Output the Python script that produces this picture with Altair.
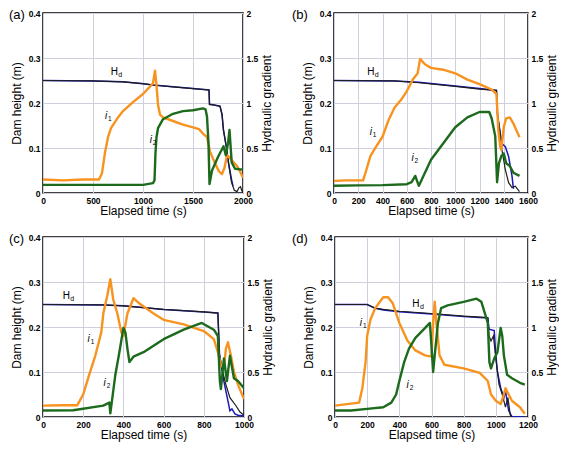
import altair as alt
import pandas as pd

# ---------------- data ----------------
# Panel (a)
a_hdb_t = [0, 500, 800, 1000, 1100, 1300, 1500, 1660, 1665, 1700, 1770, 1790, 1805, 1830, 1855, 1885, 1900]
a_hdb_v = [0.25, 0.249, 0.247, 0.243, 0.240, 0.236, 0.232, 0.229, 0.197, 0.196, 0.193, 0.175, 0.139, 0.107, 0.067, 0.030, 0.015]
a_hdk_t = [0, 500, 800, 1000, 1100, 1300, 1500, 1660, 1665, 1700, 1770, 1790, 1805, 1830, 1855, 1885, 1913, 1940, 1960, 1975, 1990, 2000]
a_hdk_v = [0.25, 0.249, 0.247, 0.243, 0.240, 0.236, 0.232, 0.229, 0.197, 0.196, 0.193, 0.175, 0.139, 0.107, 0.067, 0.024, 0.006, 0.003, 0.012, 0.014, 0.004, 0.002]
a_i1_t = [0, 200, 400, 560, 590, 620, 650, 680, 750, 800, 900, 1000, 1060, 1100, 1120, 1135, 1150, 1170, 1200, 1300, 1400, 1500, 1560, 1600, 1640, 1670, 1720, 1760, 1790, 1815, 1840, 1860, 1890, 1940, 1970, 2000]
a_i1_g = [0.15, 0.14, 0.15, 0.15, 0.22, 0.45, 0.62, 0.72, 0.84, 0.91, 1.01, 1.10, 1.17, 1.22, 1.36, 1.20, 0.98, 0.87, 0.84, 0.80, 0.76, 0.73, 0.71, 0.66, 0.62, 0.46, 0.33, 0.24, 0.21, 0.28, 0.42, 0.40, 0.36, 0.30, 0.24, 0.17]
a_i2_t = [0, 500, 1000, 1100, 1115, 1125, 1135, 1150, 1200, 1300, 1400, 1500, 1600, 1625, 1640, 1655, 1665, 1690, 1750, 1805, 1828, 1850, 1865, 1887, 1920, 2000]
a_i2_g = [0.09, 0.09, 0.09, 0.11, 0.14, 0.45, 0.62, 0.72, 0.82, 0.88, 0.91, 0.92, 0.94, 0.93, 0.85, 0.55, 0.10, 0.25, 0.40, 0.52, 0.42, 0.55, 0.70, 0.34, 0.27, 0.26]

# Panel (b)
b_hdb_t = [0, 500, 700, 1000, 1200, 1340, 1348, 1371, 1385, 1413, 1440, 1468, 1480]
b_hdb_v = [0.25, 0.249, 0.246, 0.238, 0.232, 0.228, 0.176, 0.132, 0.110, 0.103, 0.081, 0.038, 0.009]
b_hdk_t = [0, 500, 700, 1000, 1200, 1340, 1348, 1371, 1385, 1413, 1440, 1468, 1495, 1530]
b_hdk_v = [0.25, 0.249, 0.245, 0.237, 0.231, 0.228, 0.176, 0.132, 0.096, 0.052, 0.023, 0.012, 0.015, 0.003]
b_i1_t = [0, 100, 240, 260, 300, 350, 400, 450, 500, 550, 600, 650, 690, 710, 750, 800, 900, 1000, 1100, 1200, 1300, 1340, 1355, 1370, 1380, 1400, 1420, 1450, 1480, 1530]
b_i1_g = [0.135, 0.14, 0.14, 0.225, 0.41, 0.52, 0.625, 0.81, 0.95, 1.03, 1.13, 1.26, 1.33, 1.49, 1.43, 1.39, 1.37, 1.33, 1.26, 1.21, 1.15, 1.10, 0.70, 0.52, 0.48, 0.73, 0.83, 0.84, 0.77, 0.62]
b_i2_t = [0, 200, 400, 600, 640, 670, 700, 750, 800, 900, 1000, 1100, 1200, 1280, 1300, 1330, 1345, 1360, 1380, 1400, 1420, 1450, 1480, 1530]
b_i2_g = [0.08, 0.085, 0.087, 0.098, 0.12, 0.19, 0.08, 0.225, 0.37, 0.55, 0.73, 0.84, 0.90, 0.90, 0.83, 0.63, 0.12, 0.33, 0.41, 0.44, 0.33, 0.30, 0.225, 0.19]

# Panel (c)
c_hdb_t = [0, 300, 400, 600, 800, 870, 878, 900, 920, 930, 940, 955, 970, 1000]
c_hdb_v = [0.25, 0.249, 0.247, 0.239, 0.2335, 0.231, 0.140, 0.079, 0.036, 0.014, 0.018, 0.007, 0.004, 0.002]
c_hdk_t = [0, 300, 400, 600, 800, 870, 878, 890, 910, 930, 960, 980, 1000]
c_hdk_v = [0.25, 0.249, 0.247, 0.239, 0.2335, 0.231, 0.140, 0.108, 0.072, 0.043, 0.025, 0.011, 0.004]
c_i1_t = [0, 100, 170, 200, 230, 260, 290, 300, 320, 335, 350, 370, 390, 400, 420, 450, 480, 550, 600, 700, 800, 850, 870, 885, 900, 910, 920, 935, 950, 970, 1000]
c_i1_g = [0.126, 0.13, 0.13, 0.25, 0.47, 0.68, 0.94, 1.15, 1.35, 1.53, 1.30, 1.15, 0.94, 0.90, 1.15, 1.32, 1.26, 1.15, 1.08, 1.03, 0.955, 0.865, 0.72, 0.58, 0.54, 0.76, 0.83, 0.68, 0.50, 0.36, 0.20]
c_i2_t = [0, 150, 300, 330, 335, 360, 380, 400, 410, 420, 430, 450, 500, 600, 700, 790, 850, 870, 880, 885, 900, 915, 930, 950, 970, 1000]
c_i2_g = [0.072, 0.075, 0.126, 0.16, 0.04, 0.47, 0.72, 0.99, 0.94, 0.76, 0.61, 0.67, 0.72, 0.865, 0.97, 1.045, 0.97, 0.90, 0.40, 0.31, 0.65, 0.40, 0.68, 0.43, 0.40, 0.32]

# Panel (d)
d_hdb_t = [0, 200, 250, 300, 400, 600, 800, 950, 958, 990, 1000, 1010, 1030, 1050, 1060, 1070, 1080, 1100, 1180]
d_hdb_v = [0.25, 0.25, 0.2415, 0.238, 0.234, 0.229, 0.2235, 0.220, 0.195, 0.192, 0.137, 0.100, 0.065, 0.043, 0.058, 0.036, 0.014, 0.001, 0.0]
d_hdk_t = [0, 200, 250, 300, 400, 600, 800, 950, 958, 970, 985, 1000, 1020, 1040, 1060, 1075, 1090, 1100]
d_hdk_v = [0.25, 0.25, 0.242, 0.239, 0.235, 0.230, 0.224, 0.221, 0.180, 0.169, 0.180, 0.130, 0.072, 0.050, 0.022, 0.043, 0.004, 0.0]
d_i1_t = [0, 150, 170, 190, 200, 220, 250, 300, 330, 360, 400, 450, 500, 560, 600, 610, 620, 630, 650, 680, 800, 900, 950, 970, 1000, 1030, 1050, 1060, 1080, 1100, 1150, 1180]
d_i1_g = [0.126, 0.16, 0.32, 0.61, 0.90, 1.08, 1.21, 1.33, 1.33, 1.26, 1.045, 0.85, 0.74, 0.685, 0.67, 1.045, 1.28, 1.045, 0.685, 0.58, 0.54, 0.49, 0.40, 0.25, 0.18, 0.144, 0.25, 0.32, 0.25, 0.18, 0.108, 0.036]
d_i2_t = [0, 100, 200, 300, 350, 380, 400, 430, 460, 500, 550, 590, 600, 610, 620, 640, 660, 700, 800, 880, 910, 950, 960, 970, 990, 1010, 1030, 1040, 1050, 1070, 1100, 1150, 1180]
d_i2_g = [0.072, 0.072, 0.09, 0.108, 0.16, 0.25, 0.40, 0.61, 0.76, 0.88, 0.97, 1.045, 0.79, 0.50, 0.685, 1.045, 1.21, 1.24, 1.28, 1.315, 1.28, 1.045, 0.61, 0.54, 0.65, 0.72, 0.99, 0.90, 0.685, 0.47, 0.43, 0.38, 0.36]

# Annotation anchors: (time, value) for H_d (left axis) and i1, i2 (right axis)
a_ann = {"hd": (713, 0.269), "i1": (630, 0.86), "i2": (1078, 0.585)}
b_ann = {"hd": (303, 0.270), "i1": (303, 0.68), "i2": (648, 0.39)}
c_ann = {"hd": (116, 0.270), "i1": (227, 0.865), "i2": (307, 0.38)}
d_ann = {"hd": (503, 0.252), "i1": (161, 1.045), "i2": (452, 0.36)}

panel_tags = ["(a)", "(b)", "(c)", "(d)"]
x_max = [2000, 1600, 1000, 1200]
x_step = [500, 200, 200, 200]
left_ticks = [0, 0.1, 0.2, 0.3, 0.4]
right_ticks = [0, 0.5, 1, 1.5, 2]

# ---------------- styling ----------------
FONT = "Liberation Sans"
ORANGE = "#F7931E"
GREEN = "#1C6A1C"
BLUE = "#1A1AB8"
BLACK = "#1E1E1E"
GRID = "#CFCFDD"

AX = dict(labelFont=FONT, titleFont=FONT, labelFontSize=8.5, labelFontWeight="bold",
          labelColor="black", titleColor="black", titleFontSize=12, titleFontWeight="normal",
          ticks=False, domain=False, labelPadding=3, labelOverlap=False, labelFlush=False,
          tickCount=30)


def df(t, v):
    return pd.DataFrame({"t": t, "v": v})


def panel(k, hdb, hdk, i1, i2, ann, width, height, tag_dx):
    xmax = x_max[k]
    xs = alt.Scale(domain=[0, xmax], nice=False)
    ls = alt.Scale(domain=[0, 0.4], nice=False)
    rs = alt.Scale(domain=[0, 2], nice=False)
    xaxis = alt.Axis(values=list(range(0, xmax + 1, x_step[k])), format="d", title="Elapsed time (s)",
                     grid=True, gridColor=GRID, gridWidth=1, titlePadding=1, **AX)
    laxis = alt.Axis(values=left_ticks, format="~g", title="Dam height (m)", grid=True,
                     gridColor=GRID, gridWidth=1, titlePadding=5, **AX)
    raxis = alt.Axis(values=right_ticks, format="~g", title="Hydraulic gradient", orient="right",
                     grid=False, titleAngle=270, titleBaseline="top", titlePadding=4, **AX)

    X = alt.X("t:Q", scale=xs, axis=xaxis)
    Xn = alt.X("t:Q", scale=xs)

    blue = alt.Chart(df(*hdb)).mark_line(color=BLUE, strokeWidth=1.5, clip=True).encode(
        x=X, y=alt.Y("v:Q", scale=ls, axis=laxis))
    black = alt.Chart(df(*hdk)).mark_line(color=BLACK, strokeWidth=1.2, clip=True).encode(
        x=Xn, y=alt.Y("v:Q", scale=ls, axis=None))
    orange = alt.Chart(df(*i1)).mark_line(color=ORANGE, strokeWidth=2.4, strokeJoin="round", clip=True).encode(
        x=Xn, y=alt.Y("v:Q", scale=rs, axis=raxis))
    green = alt.Chart(df(*i2)).mark_line(color=GREEN, strokeWidth=2.4, strokeJoin="round", clip=True).encode(
        x=Xn, y=alt.Y("v:Q", scale=rs, axis=None))

    hd_df = pd.DataFrame({"t": [ann["hd"][0]], "v": [ann["hd"][1]], "m": ["H"], "s": ["d"]})
    i_df = pd.DataFrame({"t": [ann["i1"][0], ann["i2"][0]], "v": [ann["i1"][1], ann["i2"][1]],
                         "m": ["i", "i"], "s": ["1", "2"]})
    hd_main = alt.Chart(hd_df).mark_text(font=FONT, fontSize=10, color="black", align="center",
                                         baseline="middle").encode(
        x=Xn, y=alt.Y("v:Q", scale=ls, axis=None), text="m:N")
    hd_sub = alt.Chart(hd_df).mark_text(font=FONT, fontSize=7, color="black", align="left",
                                        baseline="middle", dx=4, dy=3).encode(
        x=Xn, y=alt.Y("v:Q", scale=ls, axis=None), text="s:N")
    i_main = alt.Chart(i_df).mark_text(font=FONT, fontSize=10, fontStyle="italic", color="black",
                                       align="center", baseline="middle").encode(
        x=Xn, y=alt.Y("v:Q", scale=rs, axis=None), text="m:N")
    i_sub = alt.Chart(i_df).mark_text(font=FONT, fontSize=6.5, color="black", align="left",
                                      baseline="middle", dx=2, dy=3).encode(
        x=Xn, y=alt.Y("v:Q", scale=rs, axis=None), text="s:N")
    tag = alt.Chart(pd.DataFrame({"tag": [panel_tags[k]]})).mark_text(
        font=FONT, fontSize=13, color="black", align="left", baseline="middle").encode(
        x=alt.value(tag_dx), y=alt.value(2), text="tag:N")

    return alt.layer(blue, black, orange, green, hd_main, hd_sub, i_main, i_sub, tag).resolve_scale(
        y="independent").properties(width=width, height=height)


pa = panel(0, (a_hdb_t, a_hdb_v), (a_hdk_t, a_hdk_v), (a_i1_t, a_i1_g), (a_i2_t, a_i2_g), a_ann, 200, 180, -34)
pb = panel(1, (b_hdb_t, b_hdb_v), (b_hdk_t, b_hdk_v), (b_i1_t, b_i1_g), (b_i2_t, b_i2_g), b_ann, 194, 180, -42)
pc = panel(2, (c_hdb_t, c_hdb_v), (c_hdk_t, c_hdk_v), (c_i1_t, c_i1_g), (c_i2_t, c_i2_g), c_ann, 201, 180, -34)
pd_ = panel(3, (d_hdb_t, d_hdb_v), (d_hdk_t, d_hdk_v), (d_i1_t, d_i1_g), (d_i2_t, d_i2_g), d_ann, 193, 180, -43)

row1 = alt.hconcat(pa, pb, spacing=17)
row2 = alt.hconcat(pc, pd_, spacing=16)

chart = alt.vconcat(row1, row2, spacing=14).properties(padding=0, background="white").configure_view(
    stroke="black", strokeWidth=1.5)

chart.save("out.html", embed_options={"renderer": "svg", "actions": False})
